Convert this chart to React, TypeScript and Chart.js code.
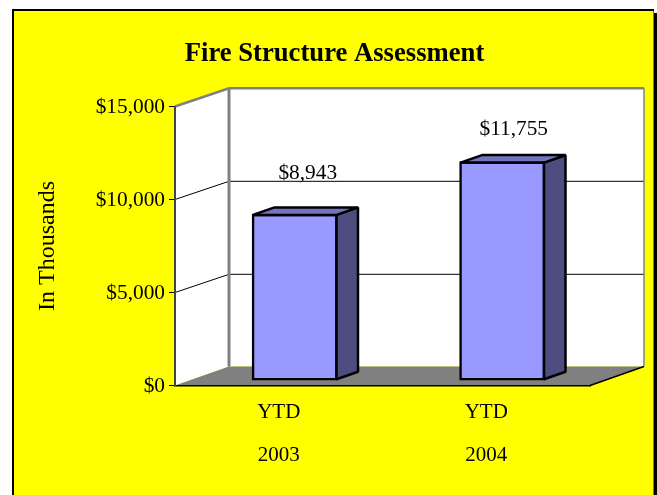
import React, { useEffect, useRef } from "react";
import { Chart, registerables } from "chart.js";

Chart.register(...registerables);

const categories: string[][] = [["YTD", "2003"], ["YTD", "2004"]];
const seriesLabel = "Fire Structure Assessment";
const values: number[] = [8943, 11755];
const yTicks: number[] = [0, 5000, 10000, 15000];
const chartTitle = "Fire Structure Assessment";
const yTitle = "In Thousands";

const SERIF = "'Liberation Serif', serif";
const WALL_DX = 54;
const WALL_DY = 18.2;
const FLOOR_DY = 19;
const BAR_SHIFT_X = 16;
const BAR_SHIFT_Y = 5;
const BAR_DX = 21.5;
const BAR_DY = 7.5;
const BAR_LINE = 2.5;
const BAR_INFLATE = 0.5;
const LABEL_NUDGE = [
  { x: 13, y: -41 },
  { x: 11.5, y: -32 },
];

const money = (v: number) => "$" + v.toLocaleString("en-US");

const poly = (ctx: CanvasRenderingContext2D, pts: number[][]) => {
  ctx.beginPath();
  pts.forEach(([x, y], i) => (i ? ctx.lineTo(x, y) : ctx.moveTo(x, y)));
  ctx.closePath();
};

const scenePlugin = {
  id: "scene3d",
  beforeDraw(chart: any) {
    const { ctx, width, height, chartArea: a, scales } = chart;
    const y = scales.y;
    ctx.save();
    ctx.fillStyle = "#ffffff";
    ctx.fillRect(0, 0, width, height);
    ctx.fillStyle = "#000000";
    ctx.fillRect(12, 9, 642, height);
    ctx.fillRect(654, 13, 3, height);
    ctx.fillStyle = "#ffff00";
    ctx.fillRect(14, 11, 639.5, height);

    const bx = a.left + WALL_DX;
    const bTop = a.top - WALL_DY;
    const bBot = a.bottom - FLOOR_DY;
    const bRight = a.right + WALL_DX;

    ctx.fillStyle = "#ffffff";
    poly(ctx, [[a.left, a.bottom], [bx, bBot], [bx, bTop], [a.left, a.top]]);
    ctx.fill();
    ctx.fillRect(bx, bTop, bRight - bx, bBot - bTop);

    ctx.fillStyle = "#808080";
    poly(ctx, [[a.left, a.bottom], [a.right, a.bottom], [bRight, bBot], [bx, bBot]]);
    ctx.fill();

    ctx.strokeStyle = "#000000";
    ctx.lineWidth = 1;
    for (const t of yTicks) {
      if (t === 0 || t === yTicks[yTicks.length - 1]) continue;
      const py = y.getPixelForValue(t);
      ctx.beginPath();
      ctx.moveTo(a.left, py);
      ctx.lineTo(bx, py - WALL_DY);
      ctx.lineTo(bRight, py - WALL_DY);
      ctx.stroke();
    }

    ctx.strokeStyle = "#808080";
    ctx.lineWidth = 2.5;
    ctx.beginPath();
    ctx.moveTo(a.left, a.top);
    ctx.lineTo(bx, bTop);
    ctx.lineTo(bRight, bTop);
    ctx.stroke();
    ctx.lineWidth = 3;
    ctx.beginPath();
    ctx.moveTo(bx, bTop);
    ctx.lineTo(bx, bBot);
    ctx.stroke();
    ctx.lineWidth = 1.5;
    ctx.beginPath();
    ctx.moveTo(bRight, bTop);
    ctx.lineTo(bRight, bBot);
    ctx.stroke();

    ctx.strokeStyle = "#000000";
    ctx.lineWidth = 1.5;
    ctx.beginPath();
    ctx.moveTo(a.right, a.bottom);
    ctx.lineTo(bRight, bBot);
    ctx.stroke();
    ctx.restore();
  },
  beforeDatasetsDraw(chart: any) {
    chart.ctx.save();
    chart.ctx.translate(BAR_SHIFT_X, -BAR_SHIFT_Y);
  },
  afterDatasetsDraw(chart: any) {
    const { ctx } = chart;
    ctx.restore();
    const bars = chart.getDatasetMeta(0).data;
    ctx.save();
    ctx.lineJoin = "bevel";
    ctx.strokeStyle = "#000000";
    ctx.lineWidth = BAR_LINE;
    bars.forEach((b: any, i: number) => {
      const half = b.width / 2 + BAR_INFLATE - BAR_LINE / 2;
      const l = b.x + BAR_SHIFT_X - half;
      const r = b.x + BAR_SHIFT_X + half;
      const t = b.y - BAR_SHIFT_Y - BAR_INFLATE + BAR_LINE / 2;
      const base = b.base - BAR_SHIFT_Y + BAR_INFLATE - BAR_LINE / 2;

      ctx.fillStyle = "#4d4d80";
      poly(ctx, [[r, t], [r + BAR_DX, t - BAR_DY], [r + BAR_DX, base - BAR_DY], [r, base]]);
      ctx.fill();
      ctx.stroke();

      ctx.fillStyle = "#7373bf";
      poly(ctx, [[l, t], [l + BAR_DX, t - BAR_DY], [r + BAR_DX, t - BAR_DY], [r, t]]);
      ctx.fill();
      ctx.stroke();

      ctx.fillStyle = "#000000";
      ctx.font = `21.33px ${SERIF}`;
      ctx.textAlign = "center";
      ctx.textBaseline = "middle";
      ctx.fillText(
        money(values[i]),
        b.x + BAR_SHIFT_X + LABEL_NUDGE[i].x,
        b.y - BAR_SHIFT_Y + LABEL_NUDGE[i].y
      );
    });
    ctx.restore();
  },
};

export default function App() {
  const ref = useRef<HTMLCanvasElement | null>(null);
  useEffect(() => {
    if (!ref.current) return;
    const chart = new Chart(ref.current, {
      type: "bar",
      data: {
        labels: categories,
        datasets: [
          {
            label: seriesLabel,
            data: values,
            backgroundColor: "#9999ff",
            borderColor: "#000000",
            borderWidth: BAR_LINE,
            borderSkipped: false,
            inflateAmount: BAR_INFLATE,
            barThickness: 85,
            clip: false,
          } as any,
        ],
      },
      plugins: [scenePlugin as any],
      options: {
        responsive: false,
        animation: false,
        layout: { padding: { left: 12, right: 0, top: 0, bottom: 0 } },
        plugins: {
          legend: { display: false },
          tooltip: { enabled: false },
          title: {
            display: true,
            text: chartTitle,
            color: "#000000",
            font: { family: SERIF, size: 26.67, weight: "bold", lineHeight: 1.2 },
            padding: { top: 38.5, bottom: 36 },
          },
        },
        scales: {
          x: {
            grid: { display: false, drawTicks: false },
            border: { display: true, color: "#000000", width: 1.5 },
            ticks: {
              color: "#000000",
              font: { family: SERIF, size: 21, lineHeight: 2.05 },
              padding: 5,
              maxRotation: 0,
            },
            afterFit: (s: any) => {
              s.height = 109.5;
            },
          },
          y: {
            min: 0,
            max: 15000,
            grid: { drawOnChartArea: false, drawTicks: true, tickLength: 6, color: "#000000", lineWidth: 1 },
            border: { display: true, color: "#444444", width: 2 },
            ticks: {
              stepSize: 5000,
              color: "#000000",
              padding: 4,
              labelOffset: 1,
              font: { family: SERIF, size: 21.33 },
              callback: (v: any) => money(Number(v)),
            },
            title: {
              display: true,
              text: yTitle,
              color: "#000000",
              font: { family: SERIF, size: 24 },
              padding: { top: 21, bottom: 0 },
            },
            afterFit: (s: any) => {
              s.width = 163;
            },
          },
          spacer: {
            position: "right",
            display: true,
            grid: { display: false, drawTicks: false },
            border: { display: false },
            ticks: { display: false },
            afterFit: (s: any) => {
              s.width = 67;
            },
          },
        },
      } as any,
    });
    return () => chart.destroy();
  }, []);
  return (
    <canvas
      ref={ref}
      width={657}
      height={495}
      style={{ position: "absolute", left: 0, top: 0, display: "block" }}
    />
  );
}
